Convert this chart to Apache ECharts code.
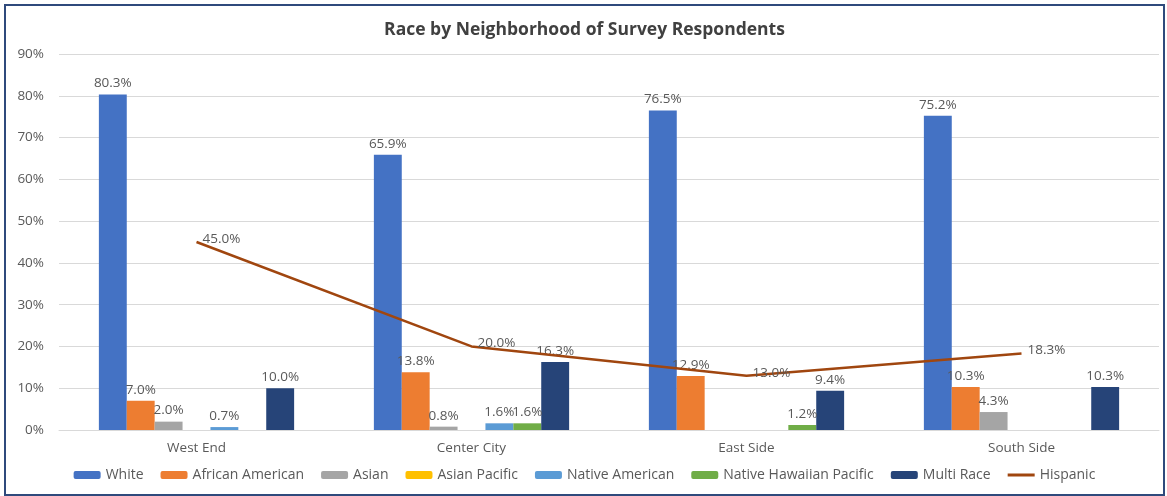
<!DOCTYPE html>
<html>
<head>
<meta charset="utf-8">
<script src="https://cdn.jsdelivr.net/npm/echarts@6/dist/echarts.min.js"></script>
<style>
  html, body { margin: 0; padding: 0; background: #fff; }
  #chart {
    position: absolute;
    left: 4px; top: 4px;
    width: 1157px; height: 488px;
    border: 2px solid #2f4a7c;
  }
</style>
</head>
<body>
<div id="chart"></div>
<script>
// neighborhoods
var categories = ['West End', 'Center City', 'East Side', 'South Side']
// percent of respondents, null = not reported
var white = [80.3, 65.9, 76.5, 75.2]
var africanAmerican = [7.0, 13.8, 12.9, 10.3]
var asian = [2.0, 0.8, null, 4.3]
var asianPacific = [null, null, null, null]
var nativeAmerican = [0.7, 1.6, null, null]
var nativeHawaiian = [null, 1.6, 1.2, null]
var multiRace = [10.0, 16.3, 9.4, 10.3]
var hispanic = [45.0, 20.0, 13.0, 18.3]
var yTicks = { min: 0, max: 90, interval: 10 }

var chart = echarts.init(document.getElementById('chart'))

function pct(p) { return p.value.toFixed(1) + '%' }

var labelStyle = {
  show: true,
  position: 'top',
  color: '#595959',
  fontSize: 13.5,
  distance: 4,
  formatter: pct
}

function bar(name, data, color) {
  return {
    name: name,
    type: 'bar',
    data: data,
    barGap: 0,
    barCategoryGap: '29%',
    itemStyle: { color: color },
    label: labelStyle
  }
}

chart.setOption({
  animation: false,
  textStyle: { fontFamily: 'Open Sans' },
  title: {
    text: 'Race by Neighborhood of Survey Respondents',
    left: 'center',
    top: 10,
    textStyle: { color: '#404040', fontSize: 17.5, fontWeight: 'bold', fontFamily: 'Open Sans' }
  },
  grid: { left: 53, right: 4, top: 48, bottom: 64 },
  legend: {
    bottom: 7,
    left: 'center',
    itemWidth: 27,
    itemHeight: 8,
    itemGap: 17,
    textStyle: { color: '#595959', fontSize: 14 },
    data: ['White', 'African American', 'Asian', 'Asian Pacific', 'Native American',
      'Native Hawaiian Pacific', 'Multi Race',
      { name: 'Hispanic', icon: 'path://M0,0 L27,0 L27,3 L0,3 Z', itemStyle: { color: '#a0460f' } }]
  },
  xAxis: {
    type: 'category',
    data: categories,
    axisTick: { show: false },
    axisLine: { lineStyle: { color: '#d9d9d9' } },
    axisLabel: { color: '#595959', fontSize: 13.5, margin: 11 }
  },
  yAxis: {
    type: 'value',
    min: yTicks.min,
    max: yTicks.max,
    interval: yTicks.interval,
    axisLabel: { color: '#595959', fontSize: 13.5, margin: 15, formatter: '{value}%' },
    splitLine: { lineStyle: { color: '#d9d9d9', width: 1 } }
  },
  series: [
    bar('White', white, '#4472c4'),
    bar('African American', africanAmerican, '#ed7d31'),
    bar('Asian', asian, '#a5a5a5'),
    bar('Asian Pacific', asianPacific, '#ffc000'),
    bar('Native American', nativeAmerican, '#5b9bd5'),
    bar('Native Hawaiian Pacific', nativeHawaiian, '#70ad47'),
    bar('Multi Race', multiRace, '#264478'),
    {
      name: 'Hispanic',
      type: 'line',
      data: hispanic,
      symbol: 'circle',
      symbolSize: 0,
      showSymbol: true,
      lineStyle: { color: '#a0460f', width: 2.5 },
      itemStyle: { color: '#a0460f' },
      label: {
        show: true,
        position: 'right',
        distance: 6,
        color: '#595959',
        fontSize: 13.5,
        offset: [0, -3],
        formatter: pct
      }
    }
  ]
})
</script>
</body>
</html>
